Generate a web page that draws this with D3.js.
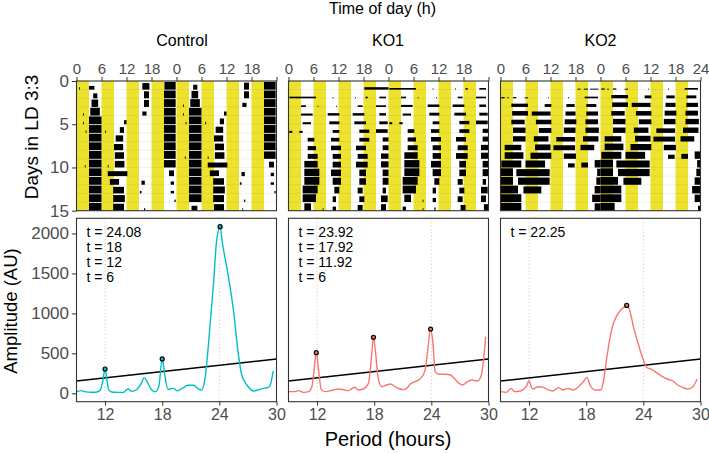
<!DOCTYPE html>
<html><head><meta charset="utf-8">
<script src="https://cdn.jsdelivr.net/npm/d3@7"></script>
<style>
body{margin:0;background:#fff}
text{font-family:"Liberation Sans",Arial,Helvetica,sans-serif}
</style>
</head><body>
<svg id="chart" width="709" height="453"></svg>
<script>
// ---------------- DATA ----------------
const groups = ["Control", "KO1", "KO2"];
const groupColors = ["#00BFC4", "#F8766D", "#F8766D"];

// actogram: tick labels on the double-plotted time axis (0..48 h)
const actoTickValues = [0, 6, 12, 18, 24, 30, 36, 42, 48];
const actoTickLabels = ["0", "6", "12", "18", "0", "6", "12", "18", "24"];
const dayTicks = [0, 5, 10, 15];
const lightStarts = [0, 6, 12, 18, 24, 30, 36, 42]; // LD 3:3 light phases
const lightLength = 3;

// activity bouts per day: [start h, end h, relative height]
const controlDays = [
  [[0.6,0.8,.3],[3.0,4.3,.45],[15.8,17.5,.8],[21.1,23.8,.95]],
  [[4.0,5.0,.6],[16.2,17.4,.85],[21.0,23.8,.95]],
  [[3.6,5.2,.9],[16.2,17.4,.85],[21.0,23.8,.95]],
  [[1.6,1.8,.3],[3.3,5.6,.95],[15.8,16.8,.5],[21.0,23.8,.95]],
  [[1.6,1.8,.3],[3.0,6.0,.95],[11.4,12.0,.5],[21.0,23.8,.95]],
  [[2.2,2.4,.3],[3.0,6.0,.95],[6.9,7.1,.3],[10.4,11.4,.7],[21.0,23.8,.95]],
  [[3.0,6.0,.95],[9.4,11.2,.75],[21.0,23.8,.95]],
  [[3.0,6.0,.95],[9.0,11.2,.75],[21.0,23.8,.95]],
  [[3.0,6.0,.95],[9.2,11.4,.8],[21.0,23.8,.95]],
  [[2.0,2.2,.3],[3.0,6.0,.95],[7.5,7.7,.3],[9.2,11.5,.8],[21.0,23.8,.9]],
  [[3.0,6.0,.95],[7.5,12.2,.6],[22.2,23.4,.7]],
  [[3.0,6.0,.95],[8.0,10.2,.7],[15.6,16.4,.5],[22.6,23.4,.4]],
  [[3.0,6.0,.95],[8.8,11.4,.8],[15.2,15.6,.3],[22.6,23.4,.3]],
  [[3.0,6.0,.95],[8.8,11.6,.85],[23.5,23.8,.3]],
  [[3.0,6.0,.95],[8.8,11.4,.85],[16.2,16.5,.3]],
  [[3.6,5.0,.6],[9.0,11.4,.8],[15.8,16.0,.3]]
];
const ko1Days = [
  [[18.2,24.0,.3]],
  [[0.2,6.6,.2],[10.6,10.8,.15],[16.0,16.2,.15],[18.5,19.0,.2],[21.8,23.4,.2]],
  [[3.0,4.2,.2],[7.0,7.2,.15],[11.4,11.6,.15],[16.6,17.8,.2],[21.0,23.4,.2]],
  [[3.0,5.8,.25],[9.4,12.2,.3],[15.4,18.2,.3],[21.8,23.4,.3]],
  [[3.4,5.4,.25],[9.8,12.2,.35],[15.8,18.6,.35],[21.8,23.8,.35]],
  [[0.2,0.9,.25],[2.6,3.4,.25],[10.6,12.2,.35],[17.0,19.4,.4],[21.0,23.8,.45]],
  [[4.6,6.2,.45],[10.2,12.2,.45],[17.0,19.4,.45],[22.6,24.0,.5]],
  [[4.6,6.6,.5],[10.2,12.6,.55],[16.2,18.6,.55],[22.6,24.0,.6]],
  [[4.6,7.0,.6],[10.6,12.6,.6],[16.6,19.0,.6],[22.2,24.0,.65]],
  [[3.8,7.0,.8],[10.6,12.6,.7],[16.2,19.0,.7],[22.2,24.0,.75]],
  [[3.8,7.4,.9],[10.2,12.6,.8],[17.0,18.6,.8],[22.6,24.0,.8]],
  [[3.8,7.4,.95],[10.6,12.6,.85],[17.0,18.6,.8],[22.6,24.0,.85]],
  [[3.4,7.0,.95],[11.0,12.2,.8],[16.6,17.8,.7],[22.6,23.4,.7]],
  [[3.4,6.6,.95],[10.6,11.4,.7],[17.0,18.2,.7],[22.2,23.8,.8]],
  [[3.8,5.4,.9],[8.2,8.4,.3],[10.6,11.4,.5],[16.6,17.8,.7],[22.2,23.4,.8]],
  [[3.4,4.2,.5],[8.2,8.4,.3],[11.0,11.3,.4],[17.3,18.5,.7],[22.9,24.0,.8]]
];
const ko2Days = [
  [[18.5,19.2,.12],[20.0,21.0,.12],[21.5,23.5,.12]],
  [[0.2,1.0,.15],[1.6,2.0,.12],[3.0,3.8,.15],[5.8,6.6,.12],[11.4,11.6,.12],[16.2,16.4,.15],[20.2,23.4,.2]],
  [[2.6,6.6,.4],[10.6,12.2,.35],[15.8,17.8,.35],[20.6,23.0,.35]],
  [[2.8,6.6,.55],[7.5,12.0,.5],[15.6,18.0,.5],[20.6,23.4,.5]],
  [[2.6,5.8,.55],[8.5,12.2,.55],[15.4,18.2,.6],[20.4,23.4,.6]],
  [[3.0,6.0,.65],[9.2,12.2,.6],[15.2,18.0,.65],[20.4,23.6,.65]],
  [[3.0,6.0,.65],[8.0,11.5,.65],[13.4,17.9,.55],[19.8,23.5,.65]],
  [[1.0,5.0,.65],[8.3,12.0,.7],[12.7,17.9,.6],[19.2,22.5,.65]],
  [[1.0,5.5,.8],[7.2,12.2,.75],[15.2,18.1,.65]],
  [[0.2,5.0,.85],[6.0,10.7,.85],[16.2,17.8,.5],[19.4,21.0,.6],[22.6,24.0,.9]],
  [[0.0,3.0,.95],[3.8,11.8,.85],[23.2,24.0,.9]],
  [[0.0,3.0,.95],[4.2,11.8,.88],[23.0,24.0,.9]],
  [[0.0,4.2,.95],[5.5,9.8,.85],[22.6,24.0,.9]],
  [[0.0,5.0,.95],[22.0,24.0,.9]],
  [[0.0,5.0,.95],[22.6,24.0,.9]],
  [[0.0,3.4,.95],[23.4,24.0,.6]]
];

// periodograms: [period (h), amplitude (AU)]
const controlSpectrum = [[9.05,20],[9.5,33],[10.0,18],[10.5,14],[11.0,14],[11.5,40],[11.75,150],[12.0,304],[12.2,160],[12.4,40],[12.8,14],[13.3,12],[13.9,10],[14.4,54],[14.8,25],[15.3,45],[15.8,125],[16.1,196],[16.4,150],[16.9,42],[17.3,20],[17.65,90],[18.0,430],[18.25,250],[18.6,50],[19.2,62],[19.6,30],[20.0,54],[20.7,100],[21.3,100],[21.8,55],[22.1,40],[22.5,187],[22.85,604],[23.4,1396],[23.7,1896],[24.08,2085],[24.3,1896],[24.8,1562],[25.5,1020],[26.0,480],[26.35,229],[26.9,104],[27.6,29],[28.1,42],[28.6,62],[29.0,70],[29.3,90],[29.65,279]];
const ko1Spectrum = [[9.04,21],[9.6,21],[10.1,33],[10.6,12],[11.1,21],[11.45,80],[11.65,250],[11.92,508],[12.15,300],[12.45,42],[12.9,21],[13.7,42],[14.2,54],[14.75,46],[15.3,33],[15.6,54],[16.0,75],[16.3,42],[16.85,54],[17.4,125],[17.7,430],[17.92,700],[18.15,500],[18.4,200],[18.8,83],[19.3,104],[19.7,117],[20.2,83],[20.7,54],[21.1,46],[21.4,62],[21.8,117],[22.3,146],[22.8,179],[23.3,271],[23.6,520],[23.92,804],[24.15,646],[24.4,271],[24.8,238],[25.5,238],[26.0,229],[26.4,187],[26.9,125],[27.25,104],[27.8,146],[28.3,167],[28.8,154],[29.2,208],[29.5,437],[29.7,708]];
const ko2Spectrum = [[9.07,21],[9.6,12],[10.1,62],[10.5,21],[11.1,29],[11.7,83],[12.0,158],[12.2,90],[12.4,54],[12.95,83],[13.5,75],[14.0,42],[14.5,29],[15.1,71],[15.5,42],[16.1,62],[16.6,42],[17.2,83],[17.7,146],[18.07,200],[18.4,104],[18.95,42],[19.55,42],[19.8,146],[20.2,479],[20.7,812],[21.25,979],[21.8,1062],[22.25,1100],[22.5,1062],[23.0,812],[23.55,583],[24.07,396],[24.4,320],[24.8,304],[25.5,250],[26.0,208],[26.5,179],[27.1,154],[27.6,104],[28.1,75],[28.66,54],[29.2,83],[29.65,179]];

// significance threshold line: [period, amplitude]
const threshold = [[9,154],[30,429]];
// detected peaks [period, amplitude] and their labels
const controlPeaks = [[24.08,2085],[18,430],[12,304]];
const ko1Peaks = [[23.92,804],[17.92,700],[11.92,508]];
const ko2Peaks = [[22.25,1100]];
const controlPeakLabels = ["t = 24.08","t = 18","t = 12","t = 6"];
const ko1PeakLabels = ["t = 23.92","t = 17.92","t = 11.92","t = 6"];
const ko2PeakLabels = ["t = 22.25"];
const periodTicks = [12, 18, 24, 30];
const refPeriods = [12, 24];
const ampTicks = [0, 500, 1000, 1500, 2000];

// ---------------- LAYOUT ----------------
const svg = d3.select("#chart");
const panelLeft = [76.5, 288.5, 500.5];
const panelW = 200;
const actoTop = 81, actoBot = 210.7;
const perTop = 218.3, perBot = 401.7;
const tickCol = "#4D4D4D", borderCol = "#333333";

const daysByGroup = [controlDays, ko1Days, ko2Days];
const spectra = [controlSpectrum, ko1Spectrum, ko2Spectrum];
const peaks = [controlPeaks, ko1Peaks, ko2Peaks];
const peakLabels = [controlPeakLabels, ko1PeakLabels, ko2PeakLabels];

const xA = d3.scaleLinear().domain([0, 48]).range([0, panelW]);
const yA = d3.scaleLinear().domain([0, 15]).range([actoTop, actoBot]);
const xP = d3.scaleLinear().domain([9, 30]).range([0, panelW]);
const yP = d3.scaleLinear().domain([-105, 2190]).range([perBot, perTop]);
const rowH = yA(1) - yA(0);

function styleAxis(g, size) {
  g.select(".domain").remove();
  g.selectAll(".tick line").attr("stroke", borderCol).attr("stroke-width", 1);
  g.selectAll(".tick text").attr("fill", tickCol).style("font-size", size + "px")
    .style("font-family", '"Liberation Sans", Arial, sans-serif');
}

// titles
svg.append("text").attr("x", 382.5).attr("y", 13.5).attr("text-anchor", "middle")
  .style("font-size", "16px").text("Time of day (h)");
svg.append("text").attr("transform", "translate(38," + 137 + ") rotate(-90)")
  .attr("text-anchor", "middle").style("font-size", "19px").text("Days in LD 3:3");
svg.append("text").attr("transform", "translate(16.5," + 311 + ") rotate(-90)")
  .attr("text-anchor", "middle").style("font-size", "18.5px").text("Amplitude (AU)");
svg.append("text").attr("x", 388).attr("y", 446).attr("text-anchor", "middle")
  .style("font-size", "20px").text("Period (hours)");

const titleX = [182, 388, 600.5];

groups.forEach((name, gi) => {
  const L = panelLeft[gi];
  // facet title
  svg.append("text").attr("x", titleX[gi]).attr("y", 46).attr("text-anchor", "middle")
    .style("font-size", "16px").text(name);

  // ----- actogram -----
  const ga = svg.append("g").attr("transform", `translate(${L},0)`);
  ga.selectAll("rect.light").data(lightStarts).join("rect").attr("class", "light")
    .attr("x", d => xA(d)).attr("width", d => xA(d + lightLength) - xA(d))
    .attr("y", actoTop).attr("height", actoBot - actoTop).attr("fill", "#EDE32F");
  // day separators
  ga.selectAll("line.day").data(d3.range(1, 15)).join("line").attr("class", "day")
    .attr("x1", 0).attr("x2", panelW).attr("y1", d => yA(d)).attr("y2", d => yA(d))
    .attr("stroke", "#000").attr("stroke-opacity", 0.1).attr("stroke-width", 0.6);
  // double plotted bouts
  const days = daysByGroup[gi];
  const bouts = [];
  for (let r = 0; r < 15; r++) {
    days[r].forEach(b => bouts.push({row: r, s: b[0], e: b[1], h: b[2]}));
    days[r + 1].forEach(b => bouts.push({row: r, s: b[0] + 24, e: b[1] + 24, h: b[2]}));
  }
  ga.selectAll("rect.bout").data(bouts).join("rect").attr("class", "bout")
    .attr("x", d => xA(d.s)).attr("width", d => Math.max(0.8, xA(d.e) - xA(d.s)))
    .attr("y", d => yA(d.row + 1) - d.h * rowH * 0.95).attr("height", d => d.h * rowH * 0.95)
    .attr("fill", "#000");
  ga.append("rect").attr("x", 0).attr("y", actoTop).attr("width", panelW)
    .attr("height", actoBot - actoTop).attr("fill", "none").attr("stroke", borderCol).attr("stroke-width", 1.1);
  const topAxis = d3.axisTop(xA).tickValues(actoTickValues).tickSize(4).tickSizeOuter(0)
    .tickPadding(3).tickFormat((d, i) => (i === 8 && gi < 2) ? "" : actoTickLabels[i]);
  const gt = ga.append("g").attr("transform", `translate(0,${actoTop})`).call(topAxis);
  styleAxis(gt, 15);
  if (gi === 0) {
    const gy = ga.append("g").call(d3.axisLeft(yA).tickValues(dayTicks).tickSize(4.5).tickPadding(3));
    styleAxis(gy, 17);
  }

  // ----- periodogram -----
  const gp = svg.append("g").attr("transform", `translate(${L},0)`);
  gp.selectAll("line.ref").data(refPeriods).join("line").attr("class", "ref")
    .attr("x1", d => xP(d)).attr("x2", d => xP(d)).attr("y1", perTop).attr("y2", perBot)
    .attr("stroke", "#BDBDBD").attr("stroke-width", 0.9).attr("stroke-dasharray", "1,2.5");
  gp.append("path").datum(threshold)
    .attr("d", d3.line().x(d => xP(d[0])).y(d => yP(d[1])))
    .attr("stroke", "#000").attr("stroke-width", 1.4).attr("fill", "none");
  gp.append("path").datum(spectra[gi])
    .attr("d", d3.line().curve(d3.curveMonotoneX).x(d => xP(d[0])).y(d => yP(d[1])))
    .attr("stroke", groupColors[gi]).attr("stroke-width", 1.4).attr("fill", "none");
  gp.selectAll("circle.peak").data(peaks[gi]).join("circle").attr("class", "peak")
    .attr("cx", d => xP(d[0])).attr("cy", d => yP(d[1])).attr("r", 2)
    .attr("fill", groupColors[gi]).attr("stroke", "#000").attr("stroke-width", 1.2);
  gp.selectAll("text.lab").data(peakLabels[gi]).join("text").attr("class", "lab")
    .attr("x", 10).attr("y", (d, i) => 236.5 + i * 15.3)
    .style("font-size", "14px").attr("fill", "#000").text(d => d);
  gp.append("rect").attr("x", 0).attr("y", perTop).attr("width", panelW)
    .attr("height", perBot - perTop).attr("fill", "none").attr("stroke", borderCol).attr("stroke-width", 1.1);
  const gb = gp.append("g").attr("transform", `translate(0,${perBot})`)
    .call(d3.axisBottom(xP).tickValues(periodTicks).tickSize(4).tickSizeOuter(0).tickPadding(3));
  styleAxis(gb, 16);
  if (gi === 0) {
    const gy2 = gp.append("g").call(d3.axisLeft(yP).tickValues(ampTicks).tickFormat(d3.format("d"))
      .tickSize(4.5).tickPadding(3));
    styleAxis(gy2, 17);
  }
});
</script>
</body></html>
